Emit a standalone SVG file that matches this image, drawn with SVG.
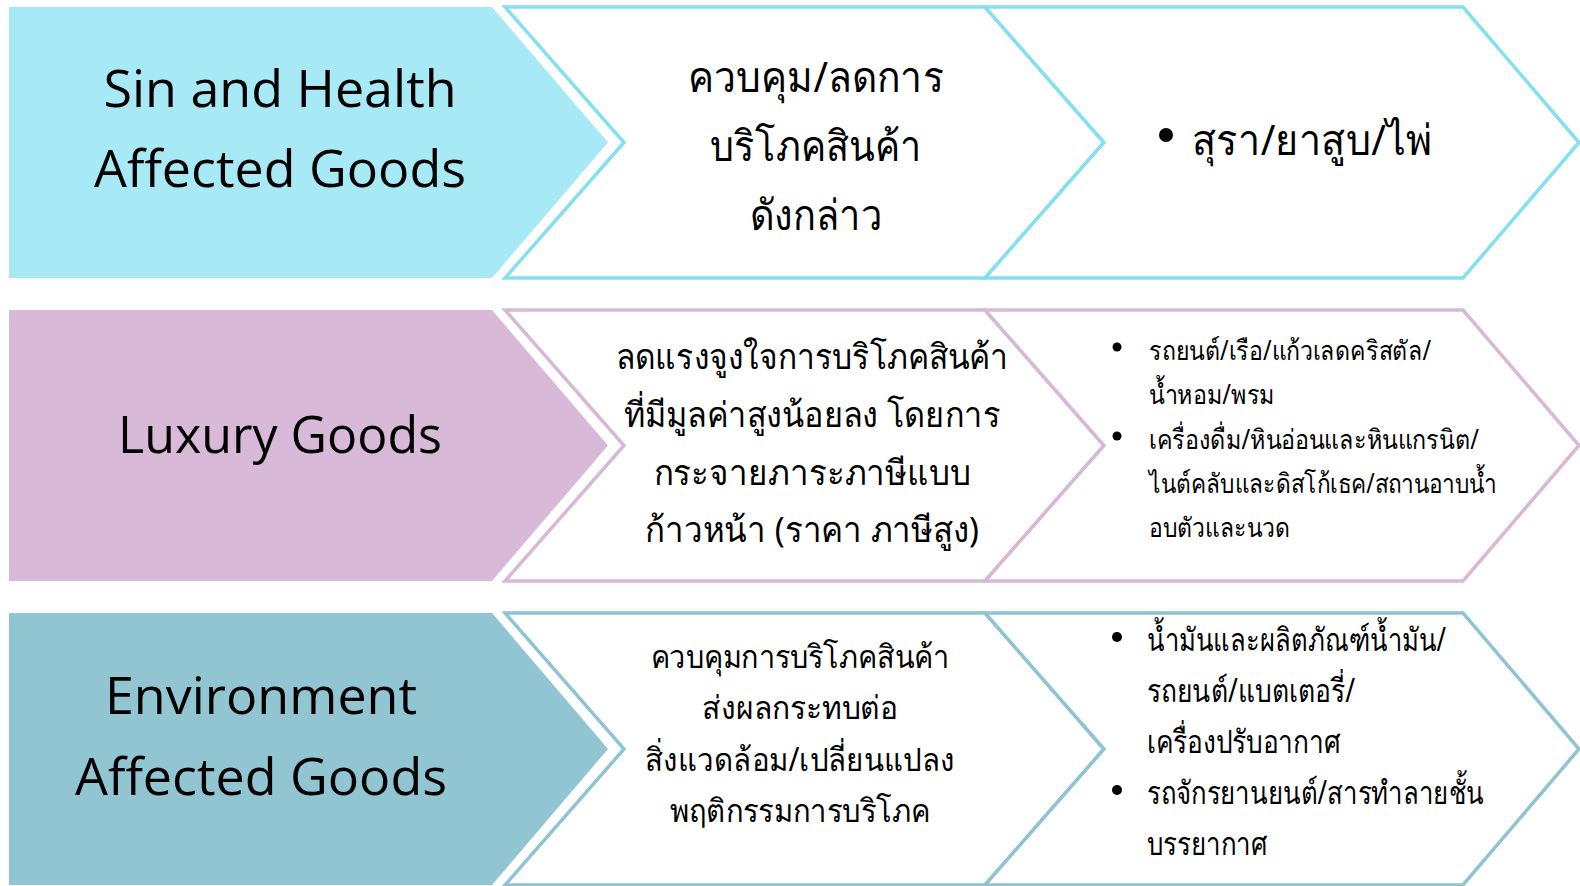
<svg xmlns="http://www.w3.org/2000/svg" width="1580" height="886" viewBox="0 0 1580 886">
<style>
.bg{fill:#ffffff}
.f1{fill:#A8E9F6}
.s1{fill:#ffffff;stroke:#86DFF1;stroke-width:3.5;stroke-linejoin:miter}
.f2{fill:#D8BAD8}
.s2{fill:#ffffff;stroke:#D7B8D7;stroke-width:3.5}
.f3{fill:#91C5D2}
.s3{fill:#ffffff;stroke:#8FC4D1;stroke-width:3.5}
.lat{font-family:"Open Sans","Noto Sans",sans-serif;font-size:52px;fill:#000;text-anchor:middle}
.th{font-family:"Noto Sans","DejaVu Sans",sans-serif;fill:#000}
.c{text-anchor:middle}
</style>
<rect class="bg" x="0" y="0" width="1580" height="886"/>
<g id="row1">
  <g id="sin-health">
    <path class="f1" d="M9,7 H492 L608,142.5 L492,278 H9 Z"/>
    <text class="lat" x="280" y="107">Sin and Health</text>
    <text class="lat" x="280" y="187">Affected Goods</text>
  </g>
  <g id="sin-purpose">
    <path class="s1" d="M505,7 H985 L1104,142.5 L985,278 H505 L624,142.5 Z"/>
    <text class="th c" font-size="42" x="816" y="92" textLength="256" lengthAdjust="spacingAndGlyphs">ควบคุม/ลดการ</text>
    <text class="th c" font-size="42" x="816" y="161" textLength="212" lengthAdjust="spacingAndGlyphs">บริโภคสินค้า</text>
    <text class="th c" font-size="42" x="816" y="230" textLength="133" lengthAdjust="spacingAndGlyphs">ดังกล่าว</text>
  </g>
  <g id="sin-items">
    <path class="s1" d="M985,7 H1463 L1579,142.5 L1463,278 H985 L1104,142.5 Z"/>
    <circle cx="1166" cy="135" r="7" fill="#000"/>
    <text class="th" font-size="42" x="1192" y="155" textLength="240" lengthAdjust="spacingAndGlyphs">สุรา/ยาสูบ/ไพ่</text>
  </g>
</g>
<g id="row2">
  <g id="luxury">
    <path class="f2" d="M9,310 H492 L608,445.5 L492,581 H9 Z"/>
    <text class="lat" x="280" y="453" textLength="324" lengthAdjust="spacingAndGlyphs">Luxury Goods</text>
  </g>
  <g id="luxury-purpose">
    <path class="s2" d="M505,310 H985 L1104,445.5 L985,581 H505 L624,445.5 Z"/>
    <text class="th c" font-size="35" x="812" y="369" textLength="393" lengthAdjust="spacingAndGlyphs">ลดแรงจูงใจการบริโภคสินค้า</text>
    <text class="th c" font-size="35" x="812" y="427" textLength="377" lengthAdjust="spacingAndGlyphs">ที่มีมูลค่าสูงน้อยลง โดยการ</text>
    <text class="th c" font-size="35" x="812" y="485" textLength="317" lengthAdjust="spacingAndGlyphs">กระจายภาระภาษีแบบ</text>
    <text class="th c" font-size="35" x="812" y="542" textLength="334" lengthAdjust="spacingAndGlyphs">ก้าวหน้า (ราคา ภาษีสูง)</text>
  </g>
  <g id="luxury-items">
    <path class="s2" d="M985,310 H1463 L1579,445.5 L1463,581 H985 L1104,445.5 Z"/>
    <circle cx="1117" cy="347" r="4.5" fill="#000"/>
    <circle cx="1117" cy="436" r="4.5" fill="#000"/>
    <text class="th" font-size="27" x="1149" y="360" textLength="282" lengthAdjust="spacingAndGlyphs">รถยนต์/เรือ/แก้วเลดคริสตัล/</text>
    <text class="th" font-size="27" x="1149" y="404" textLength="126" lengthAdjust="spacingAndGlyphs">น้ำหอม/พรม</text>
    <text class="th" font-size="27" x="1149" y="449" textLength="330" lengthAdjust="spacingAndGlyphs">เครื่องดื่ม/หินอ่อนและหินแกรนิต/</text>
    <text class="th" font-size="27" x="1149" y="493" textLength="348" lengthAdjust="spacingAndGlyphs">ไนต์คลับและดิสโก้เธค/สถานอาบน้ำ</text>
    <text class="th" font-size="27" x="1149" y="537" textLength="141" lengthAdjust="spacingAndGlyphs">อบตัวและนวด</text>
  </g>
</g>
<g id="row3">
  <g id="environment">
    <path class="f3" d="M9,613 H492 L608,749 L492,885 H9 Z"/>
    <text class="lat" x="261" y="714">Environment</text>
    <text class="lat" x="261" y="795">Affected Goods</text>
  </g>
  <g id="env-purpose">
    <path class="s3" d="M505,613 H985 L1104,749 L985,885 H505 L624,749 Z"/>
    <text class="th c" font-size="32" x="800" y="668" textLength="299" lengthAdjust="spacingAndGlyphs">ควบคุมการบริโภคสินค้า</text>
    <text class="th c" font-size="32" x="800" y="719" textLength="196" lengthAdjust="spacingAndGlyphs">ส่งผลกระทบต่อ</text>
    <text class="th c" font-size="32" x="800" y="771" textLength="310" lengthAdjust="spacingAndGlyphs">สิ่งแวดล้อม/เปลี่ยนแปลง</text>
    <text class="th c" font-size="32" x="800" y="822" textLength="260" lengthAdjust="spacingAndGlyphs">พฤติกรรมการบริโภค</text>
  </g>
  <g id="env-items">
    <path class="s3" d="M985,613 H1463 L1579,749 L1463,885 H985 L1104,749 Z"/>
    <circle cx="1117" cy="637" r="5" fill="#000"/>
    <circle cx="1117" cy="790" r="5" fill="#000"/>
    <text class="th" font-size="32" x="1147" y="651" textLength="299" lengthAdjust="spacingAndGlyphs">น้ำมันและผลิตภัณฑ์น้ำมัน/</text>
    <text class="th" font-size="32" x="1147" y="702" textLength="208" lengthAdjust="spacingAndGlyphs">รถยนต์/แบตเตอรี่/</text>
    <text class="th" font-size="32" x="1147" y="753" textLength="193" lengthAdjust="spacingAndGlyphs">เครื่องปรับอากาศ</text>
    <text class="th" font-size="32" x="1147" y="804" textLength="337" lengthAdjust="spacingAndGlyphs">รถจักรยานยนต์/สารทำลายชั้น</text>
    <text class="th" font-size="32" x="1147" y="855" textLength="120" lengthAdjust="spacingAndGlyphs">บรรยากาศ</text>
  </g>
</g>
</svg>
